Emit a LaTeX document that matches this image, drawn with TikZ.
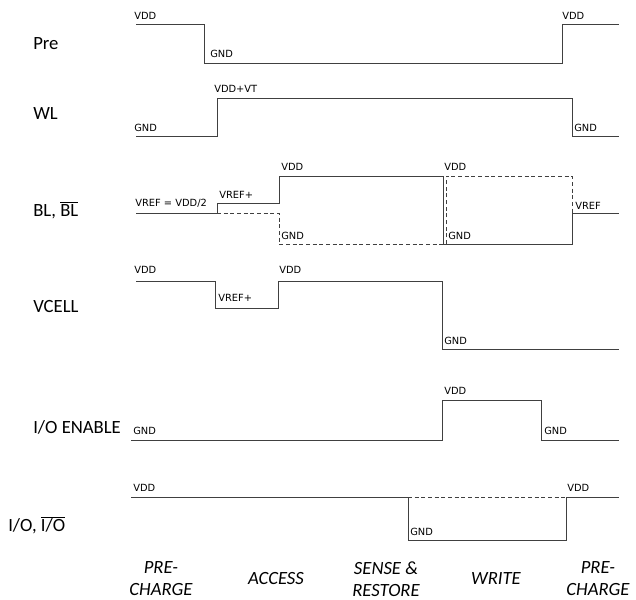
\documentclass[tikz,border=0pt]{standalone}
\usepackage{fontspec}
\setmainfont{Carlito}
\newfontfamily\lvlfont{DejaVu Sans}
\newcommand\ovl[1]{$\overline{\hbox{#1}}$}
\tikzset{
  wave/.style={line width=0.7pt, black!75},
  alt/.style={wave, dash pattern=on 3pt off 2pt},
  lvl/.style={font=\lvlfont\fontsize{7.4}{8}\selectfont, inner sep=0pt, anchor=south west},
  sig/.style={font=\fontsize{14}{16}\selectfont, inner sep=0pt, anchor=west},
  phase/.style={font=\itshape\fontsize{14}{16.5}\selectfont, align=center, inner sep=0pt},
}
\begin{document}
\begin{tikzpicture}[x=0.75pt, y=-0.75pt]
\useasboundingbox (0,0) rectangle (636,600);
% signal names
\node[sig] (pre)   at (33,44)  {Pre};
\node[sig] (wl)    at (33,114) {WL};
\node[sig] (bl)    at (33,210) {BL, \ovl{BL}};
\node[sig] (vcell) at (33,307) {VCELL};
\node[sig] (ioen)  at (33,427) {I/O ENABLE};
\node[sig] (io)    at (8,525)  {I/O, \ovl{I/O}};
% Pre
\draw[wave] (136,24) -- (204,24) -- (204,63) -- (562,63) -- (562,24) -- (619,24);
\node[lvl] (pre-vdd)  at (134,20) {VDD};
\node[lvl] (pre-gnd)  at (210,58) {GND};
\node[lvl] (pre-vdd2) at (562,20) {VDD};
% WL
\draw[wave] (136,136) -- (217,136) -- (217,98) -- (572,98) -- (572,136) -- (619,136);
\node[lvl] (wl-gnd)  at (134,132) {GND};
\node[lvl] (wl-vpp)  at (214,93)  {VDD+VT};
\node[lvl] (wl-gnd2) at (574,132) {GND};
% BL and its complement
\draw[wave] (136,213) -- (217,213) -- (217,203) -- (279,203) -- (279,176) -- (443,176)
  -- (443,244) -- (572,244) -- (572,213) -- (619,213);
\draw[alt] (217,213) -- (279,213) -- (279,244) -- (443,244);
\draw[alt] (446,244) -- (446,176) -- (572,176) -- (572,213);
\node[lvl] (bl-ref)  at (135,208) {VREF = VDD/2};
\node[lvl] (bl-refp) at (219,199) {VREF+};
\node[lvl] (bl-vdd)  at (281,171) {VDD};
\node[lvl] (bl-gnd)  at (281,240) {GND};
\node[lvl] (bl-vdd2) at (444,171) {VDD};
\node[lvl] (bl-gnd2) at (448,240) {GND};
\node[lvl] (bl-ref2) at (575,210) {VREF};
% VCELL
\draw[wave] (136,281) -- (215,281) -- (215,308) -- (278,308) -- (278,281) -- (442,281)
  -- (442,349) -- (619,349);
\node[lvl] (vc-vdd)  at (134,274) {VDD};
\node[lvl] (vc-refp) at (218,302) {VREF+};
\node[lvl] (vc-vdd2) at (279,274) {VDD};
\node[lvl] (vc-gnd)  at (444,345) {GND};
% I/O ENABLE
\draw[wave] (131,440) -- (442,440) -- (442,400) -- (541,400) -- (541,440) -- (619,440);
\node[lvl] (en-gnd)  at (133,435) {GND};
\node[lvl] (en-vdd)  at (444,395) {VDD};
\node[lvl] (en-gnd2) at (544,435) {GND};
% I/O and its complement
\draw[wave] (131,497) -- (408,497) -- (408,540) -- (566,540) -- (566,497) -- (619,497);
\draw[alt] (408,497) -- (566,497);
\node[lvl] (io-vdd)  at (133,492) {VDD};
\node[lvl] (io-gnd)  at (410,536) {GND};
\node[lvl] (io-vdd2) at (567,492) {VDD};
% phases
\node[phase] (ph1) at (161,579) {PRE-\\CHARGE};
\node[phase] (ph2) at (276,579) {ACCESS};
\node[phase] (ph3) at (386,579) {SENSE \&\\RESTORE};
\node[phase] (ph4) at (496,579) {WRITE};
\node[phase] (ph5) at (598,579) {PRE-\\CHARGE};
\end{tikzpicture}
\end{document}
